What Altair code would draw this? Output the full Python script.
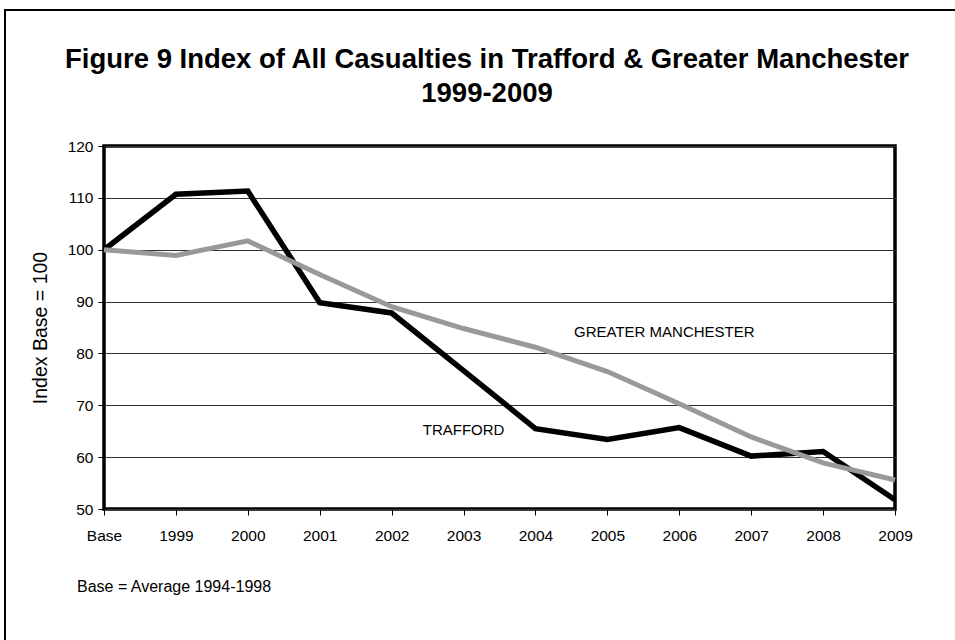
import altair as alt
import pandas as pd

# Index values (base = average 1994-1998 = 100)
categories = ["Base", "1999", "2000", "2001", "2002", "2003",
              "2004", "2005", "2006", "2007", "2008", "2009"]
trafford = [100, 110.7, 111.3, 89.8, 87.8, 76.7, 65.5, 63.4, 65.7, 60.2, 61.1, 51.8]
greater_manchester = [100, 98.9, 101.7, 95.2, 89.0, 84.8, 81.2, 76.5, 70.3, 63.9, 58.9, 55.6]

series_names = ["TRAFFORD", "GREATER MANCHESTER"]
series_colors = ["#000000", "#999999"]

label_text = ["GREATER MANCHESTER", "TRAFFORD"]
label_cat = ["2006", "2003"]
label_val = [84.1, 65.2]
label_dx = [-15, 0]

title_lines = ["Figure 9 Index of All Casualties in Trafford & Greater Manchester", "1999-2009"]
note_text = "Base = Average 1994-1998"

FONT = "Liberation Sans"
W, H = 791, 363

rows = []
for name, vals in zip(series_names, [trafford, greater_manchester]):
    for c, v in zip(categories, vals):
        rows.append({"category": c, "index": v, "series": name})
df = pd.DataFrame(rows)

labels = pd.DataFrame({"text": label_text, "category": label_cat,
                       "index": label_val, "dx": label_dx})

x_enc = alt.X("category:N", sort=categories,
              scale=alt.Scale(type="point", padding=0),
              axis=alt.Axis(title=None, labelAngle=0, labelFontSize=15.5,
                            labelPadding=13, tickSize=6, labelFont=FONT,
                            labelColor="#000", tickColor="#000", grid=False,
                            domain=False))
y_scale = alt.Scale(domain=[50, 120], nice=False, zero=False)

lines = alt.Chart(df).mark_line(strokeJoin="miter", strokeCap="butt").encode(
    x=x_enc,
    y=alt.Y("index:Q", scale=y_scale,
            axis=alt.Axis(title="Index Base = 100", values=list(range(50, 121, 10)),
                          labelFontSize=15.5, labelFont=FONT, labelColor="#000",
                          titleFontSize=19.5, titleFont=FONT, titleFontWeight="normal",
                          titleColor="#000", titlePadding=17,
                          tickSize=6, tickColor="#000", domain=False,
                          grid=True, gridColor="#333333", gridWidth=1, labelPadding=5)),
    color=alt.Color("series:N", scale=alt.Scale(domain=series_names, range=series_colors),
                    legend=None),
    strokeWidth=alt.StrokeWidth("series:N",
                                scale=alt.Scale(domain=series_names, range=[5.5, 5]),
                                legend=None),
    order=alt.Order("series:N", sort="descending"),
)

annotations = alt.Chart(labels).mark_text(font=FONT, fontSize=15, color="#000").encode(
    x=alt.X("category:N", sort=categories),
    y=alt.Y("index:Q", scale=y_scale),
    text="text:N",
    xOffset=alt.XOffset("dx:Q", scale=None),
)


def heading(line, baseline_y):
    # one line of the bold two-line heading above the plot
    return alt.Chart(alt.Data(values=[{"t": line}])).mark_text(
        font=FONT, fontSize=27.5, fontWeight="bold", align="center",
        baseline="alphabetic", color="#000"
    ).encode(x=alt.value(383), y=alt.value(baseline_y), text="t:N")


title1 = heading(title_lines[0], -78)
title2 = heading(title_lines[1], -44)

note = alt.Chart(alt.Data(values=[{"t": note_text}])).mark_text(
    font=FONT, fontSize=16, align="left", baseline="middle", color="#000"
).encode(x=alt.value(-27), y=alt.value(78 + H), text="t:N")

# Outer border around the whole figure (right and bottom edges run off the page)
frame = alt.Chart(alt.Data(values=[{}])).mark_rect(
    fill="transparent", stroke="#000", strokeWidth=2
).encode(x=alt.value(-99), x2=alt.value(862), y=alt.value(-136), y2=alt.value(520))

chart = alt.layer(frame, lines, annotations, title1, title2, note).properties(
    width=W, height=H,
    autosize=alt.AutoSizeParams(type="none"),
    padding={"left": 104, "top": 146, "right": 60, "bottom": 131},
).configure(background="white").configure_view(stroke="#000", strokeWidth=3.5)

chart.save("out.html", embed_options={"renderer": "svg", "actions": False})
